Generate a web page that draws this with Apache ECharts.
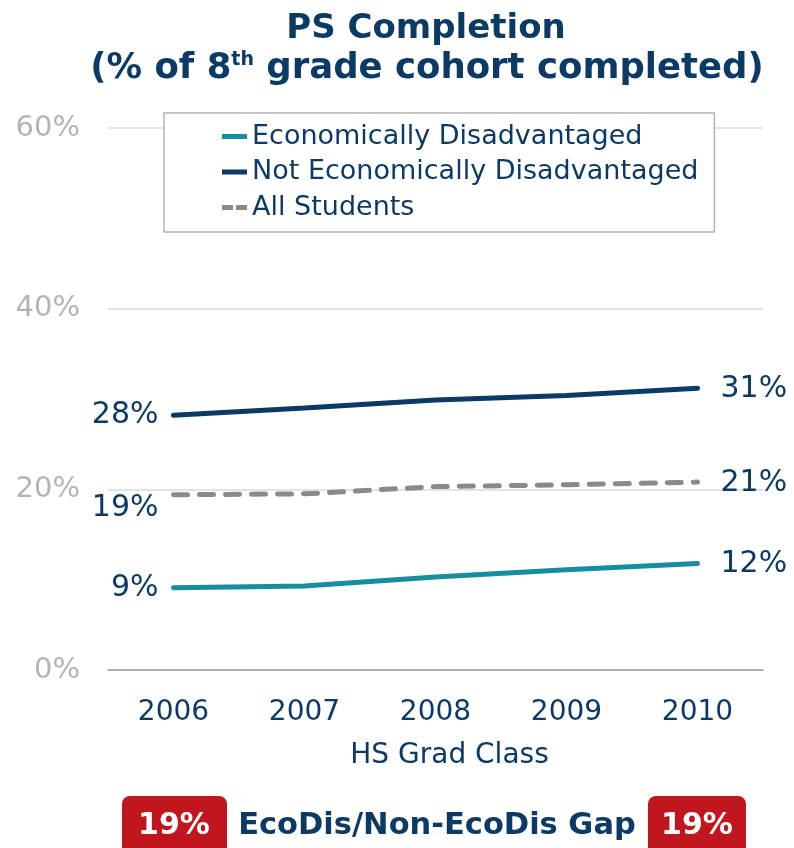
<!DOCTYPE html>
<html>
<head>
<meta charset="utf-8">
<script src="https://cdn.jsdelivr.net/npm/echarts@6/dist/echarts.min.js"></script>
<style>
  html, body { margin: 0; padding: 0; background: #fff; }
  #chart { width: 794px; height: 848px; }
</style>
</head>
<body>
<div id="chart"></div>
<script>
// grad classes on the x axis
const years = ['2006', '2007', '2008', '2009', '2010']
// % of 8th grade cohort that completed PS
const ecoDis = [9.1, 9.3, 10.3, 11.1, 11.8]
const notEcoDis = [28.2, 29.0, 29.9, 30.4, 31.2]
const allStudents = [19.4, 19.5, 20.3, 20.5, 20.8]
// gap boxes under the chart (first year, last year)
const gapValues = ['19%', '19%']

const NAVY = '#0c3a66'
const TEAL = '#168ea0'
const GREY = '#8a8a8a'
const RED = '#c1161e'
const FONT = 'DejaVu Sans'

// legend icons: a short bar, and a bar in two pieces for the dashed one
const SOLID_ICON = 'path://M0,0H25V5H0Z'
const DASH_ICON = 'path://M0,0H11V5H0ZM14,0H25V5H14Z'

// only the end points carry a label
function withEndLabels (values, firstOffset) {
  const last = values.length - 1
  return values.map((v, i) => ({
    value: v,
    label: {
      show: i === 0 || i === last,
      position: i === 0 ? 'left' : 'right',
      offset: i === 0 ? (firstOffset || [0, 0]) : [8, 1]
    }
  }))
}

const labelStyle = {
  color: NAVY,
  fontFamily: FONT,
  fontSize: 30,
  distance: 14,
  formatter: p => Math.round(p.value) + '%'
}

const chart = echarts.init(document.getElementById('chart'))

chart.setOption({
  animation: false,
  textStyle: { fontFamily: FONT },
  grid: { left: 108, right: 31, top: 128, bottom: 178 },
  legend: {
    orient: 'vertical',
    left: 164,
    top: 113,
    padding: [10, 16, 11, 58],
    backgroundColor: '#fff',
    borderColor: '#b5b5b5',
    borderWidth: 1.5,
    itemWidth: 25,
    itemHeight: 5,
    itemGap: 8.5,
    textStyle: { color: NAVY, fontSize: 27, lineHeight: 27, fontFamily: FONT },
    data: [
      { name: 'Economically Disadvantaged', icon: SOLID_ICON },
      { name: 'Not Economically Disadvantaged', icon: SOLID_ICON },
      { name: 'All Students', icon: DASH_ICON }
    ]
  },
  xAxis: {
    type: 'category',
    data: years,
    boundaryGap: true,
    axisLine: { lineStyle: { color: '#9a9a9a', width: 1.5 } },
    axisTick: { show: false },
    axisLabel: { color: NAVY, fontSize: 28, margin: 29 },
    name: 'HS Grad Class',
    nameLocation: 'middle',
    nameGap: 72,
    nameTextStyle: { color: NAVY, fontSize: 28, padding: [0, 0, 0, 28] }
  },
  yAxis: {
    type: 'value',
    min: 0,
    max: 60,
    interval: 20,
    axisLine: { show: false },
    axisTick: { show: false },
    axisLabel: { color: '#b4b4b4', fontSize: 29, margin: 28, formatter: '{value}%' },
    splitLine: { lineStyle: { color: '#dadada', width: 1.5 } }
  },
  series: [
    {
      name: 'Economically Disadvantaged',
      type: 'line',
      symbol: 'circle',
      symbolSize: 2,
      data: withEndLabels(ecoDis),
      lineStyle: { color: TEAL, width: 5, cap: 'round' },
      itemStyle: { color: TEAL },
      label: labelStyle
    },
    {
      name: 'Not Economically Disadvantaged',
      type: 'line',
      symbol: 'circle',
      symbolSize: 2,
      data: withEndLabels(notEcoDis),
      lineStyle: { color: NAVY, width: 5, cap: 'round' },
      itemStyle: { color: NAVY },
      label: labelStyle
    },
    {
      name: 'All Students',
      type: 'line',
      symbol: 'circle',
      symbolSize: 2,
      data: withEndLabels(allStudents, [0, 13]),
      lineStyle: { color: GREY, width: 5, type: [14, 12], cap: 'round' },
      itemStyle: { color: GREY },
      label: labelStyle
    }
  ],
  graphic: [
    {
      type: 'text',
      x: 426, y: 29,
      style: {
        text: 'PS Completion',
        fill: NAVY, font: 'bold 34px "DejaVu Sans"',
        align: 'center', verticalAlign: 'middle'
      }
    },
    {
      type: 'text',
      x: 427, y: 69,
      style: {
        text: '(% of 8{sup|th} grade cohort completed)',
        fill: NAVY, font: 'bold 35.5px "DejaVu Sans"',
        align: 'center', verticalAlign: 'middle',
        rich: {
          sup: { fill: NAVY, font: 'bold 19px "DejaVu Sans"', verticalAlign: 'top', padding: [0, 0, 14, 0] }
        }
      }
    },
    {
      type: 'rect',
      shape: { x: 122, y: 796, width: 105, height: 62, r: 8 },
      style: { fill: RED }
    },
    {
      type: 'text',
      x: 174, y: 826,
      style: {
        text: gapValues[0], fill: '#fff', font: 'bold 30px "DejaVu Sans"',
        align: 'center', verticalAlign: 'middle'
      }
    },
    {
      type: 'text',
      x: 437, y: 826,
      style: {
        text: 'EcoDis/Non-EcoDis Gap', fill: NAVY, font: 'bold 30.5px "DejaVu Sans"',
        align: 'center', verticalAlign: 'middle'
      }
    },
    {
      type: 'rect',
      shape: { x: 648, y: 796, width: 98, height: 62, r: 8 },
      style: { fill: RED }
    },
    {
      type: 'text',
      x: 697, y: 826,
      style: {
        text: gapValues[1], fill: '#fff', font: 'bold 30px "DejaVu Sans"',
        align: 'center', verticalAlign: 'middle'
      }
    }
  ]
})
</script>
</body>
</html>
